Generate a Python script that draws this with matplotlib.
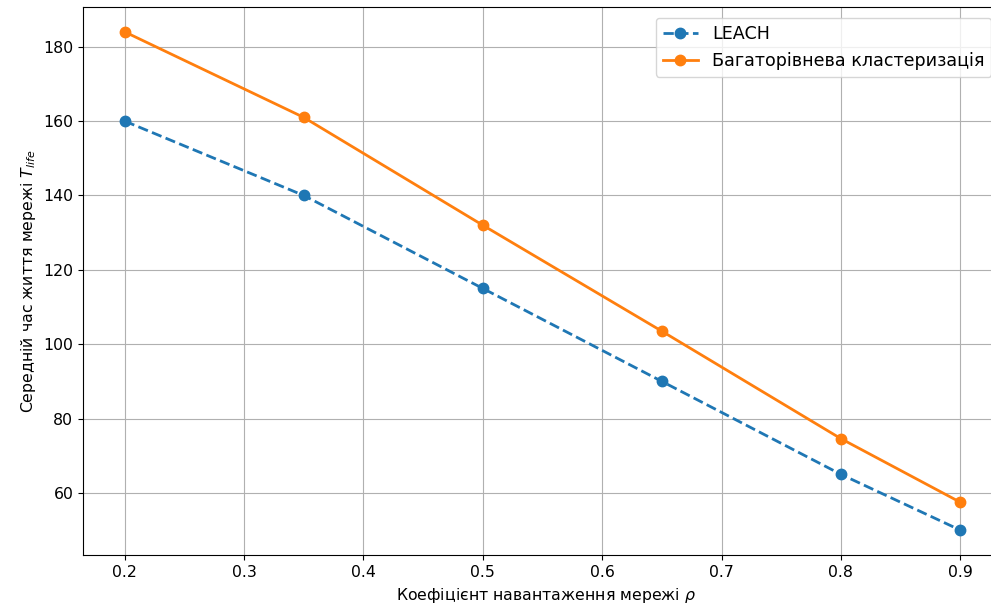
import matplotlib
matplotlib.use("Agg")
import matplotlib.pyplot as plt

rho = [0.2, 0.35, 0.5, 0.65, 0.8, 0.9]
leach = [160, 140, 115, 90, 65, 50]
multi = [184, 161, 132, 103.5, 74.6, 57.5]

plt.rcParams['font.size'] = 11.3
fig = plt.figure(figsize=(9.91, 6.14), dpi=100)
W, H = 991, 614
ax = fig.add_axes([83/W, 1 - 555/H, (1010-83)/W, (555-7)/H])
ax.plot(rho, leach, '--o', color='#1f77b4', lw=2.0, ms=7.5, label='LEACH')
ax.plot(rho, multi, '-o', color='#ff7f0e', lw=2.0, ms=7.5, label='Багаторівнева кластеризація')
ax.grid(True)
ax.set_xlim(0.165, 0.935 + (1010-1002)/1193)
ax.set_xlabel(r'Коефіцієнт навантаження мережі $\rho$')
ax.set_ylabel(r'Середній час життя мережі $T_{life}$')
ax.set_yticks([60, 80, 100, 120, 140, 160, 180])
ax.legend(loc='upper right', bbox_to_anchor=(1 - 10/927, 0.996), fontsize=12.6)
fig.savefig('out.png', dpi=100)
